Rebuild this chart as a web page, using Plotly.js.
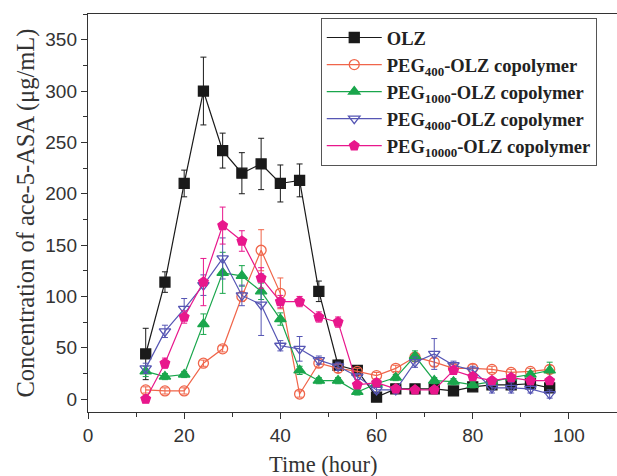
<!DOCTYPE html>
<html>
<head>
<meta charset="utf-8">
<script src="https://cdn.plot.ly/plotly-3.0.1.min.js"></script>
<style>html,body{margin:0;padding:0;background:#fff;}#chart{width:617px;height:476px;}</style>
</head>
<body>
<div id="chart"></div>
<script>
const time = [12,16,20,24,28,32,36,40,44,48,52,56,60,64,68,72,76,80,84,88,92,96];

const olz      = [44,114,210,300,242,220,229,210,213,105,33,28,2,10,10,10,8,12,14,14,15,11];
const olzErr   = [25,10,13,33,17,20,25,18,16,10,5,4,3,3,3,3,3,3,3,3,3,3];

const peg400    = [9,8,8,35,49,100,145,103,5,35,30,27,23,30,41,36,30,30,29,26,27,29];
const peg400Err = [3,3,3,3,3,5,20,15,3,4,4,3,3,3,4,4,4,4,3,3,3,4];

const peg1000    = [27,22,24,73,123,120,105,78,28,18,18,7,15,21,42,18,17,14,17,21,24,28];
const peg1000Err = [5,3,3,10,20,10,8,6,4,3,3,3,3,3,5,3,3,3,3,3,3,8];

const peg4000    = [30,66,88,111,137,101,92,52,49,38,32,22,9,9,36,44,33,28,11,11,10,5];
const peg4000Err = [5,6,10,10,20,10,30,5,12,4,4,3,3,3,5,15,4,4,5,5,4,4];

const peg10000    = [0,35,80,114,169,154,118,95,95,80,75,14,16,10,9,9,28,22,18,21,18,18];
const peg10000Err = [3,5,6,23,18,10,10,6,5,5,5,3,3,3,3,3,4,3,3,3,3,3];

const names = ['OLZ','PEG<sub>400</sub>-OLZ copolymer','PEG<sub>1000</sub>-OLZ copolymer','PEG<sub>4000</sub>-OLZ copolymer','PEG<sub>10000</sub>-OLZ copolymer'];
const xTickVals = [0,20,40,60,80,100];
const yTickVals = [0,50,100,150,200,250,300,350];

function trace(y, err, name, color, symbol){
  return {
    x: time, y: y, name: name, type: 'scatter', mode: 'lines+markers',
    line: {color: color, width: 1.2},
    marker: {color: color, symbol: symbol, size: 10, line: {color: color, width: 1.3}},
    error_y: {type: 'data', array: err, visible: true, color: color, thickness: 1, width: 3}
  };
}

const data = [
  trace(olz, olzErr, names[0], '#1a1a1a', 'square'),
  trace(peg400, peg400Err, names[1], '#f0654a', 'circle-open'),
  trace(peg1000, peg1000Err, names[2], '#1aa64c', 'triangle-up'),
  trace(peg4000, peg4000Err, names[3], '#5656b4', 'triangle-down-open'),
  trace(peg10000, peg10000Err, names[4], '#e8178c', 'pentagon')
];

const serif = 'Liberation Serif, Times New Roman, serif';
const sans = 'Liberation Sans, Arial, sans-serif';

const layout = {
  width: 617, height: 476,
  margin: {l: 88, r: 0, t: 14, b: 64},
  paper_bgcolor: '#fff', plot_bgcolor: '#fff',
  showlegend: true,
  legend: {
    x: 0.44, y: 0.99, xanchor: 'left', yanchor: 'top',
    bordercolor: '#555', borderwidth: 1, bgcolor: '#fff',
    font: {family: serif, size: 18.5, color: '#222', weight: 'bold'},
    itemwidth: 55, tracegroupgap: 0
  },
  xaxis: {
    range: [0, 110], tickmode: 'array', tickvals: xTickVals,
    ticks: 'outside', ticklen: 6, tickwidth: 1, tickcolor: '#333',
    minor: {dtick: 10, ticks: 'outside', ticklen: 4, tickcolor: '#333', showgrid: false},
    showline: true, linecolor: '#333', linewidth: 1.2, mirror: true,
    showgrid: false, zeroline: false,
    tickfont: {family: sans, size: 19, color: '#333'}
  },
  yaxis: {
    range: [-12.5, 375], tickmode: 'array', tickvals: yTickVals,
    ticks: 'outside', ticklen: 6, tickwidth: 1, tickcolor: '#333',
    minor: {dtick: 25, ticks: 'outside', ticklen: 4, tickcolor: '#333', showgrid: false},
    showline: true, linecolor: '#333', linewidth: 1.2, mirror: false,
    showgrid: false, zeroline: false,
    tickfont: {family: sans, size: 19, color: '#333'},
    title: {text: 'Concentration of ace-5-ASA (μg/mL)', font: {family: serif, size: 24.5, color: '#333'}, standoff: 3}
  },
  annotations: [{
    text: 'Time (hour)', xref: 'x', yref: 'paper', x: 49, y: -0.133,
    xanchor: 'center', yanchor: 'middle', showarrow: false,
    font: {family: serif, size: 22.5, color: '#333'}
  }]
};

Plotly.newPlot('chart', data, layout, {displayModeBar: false, staticPlot: true});
</script>
</body>
</html>
